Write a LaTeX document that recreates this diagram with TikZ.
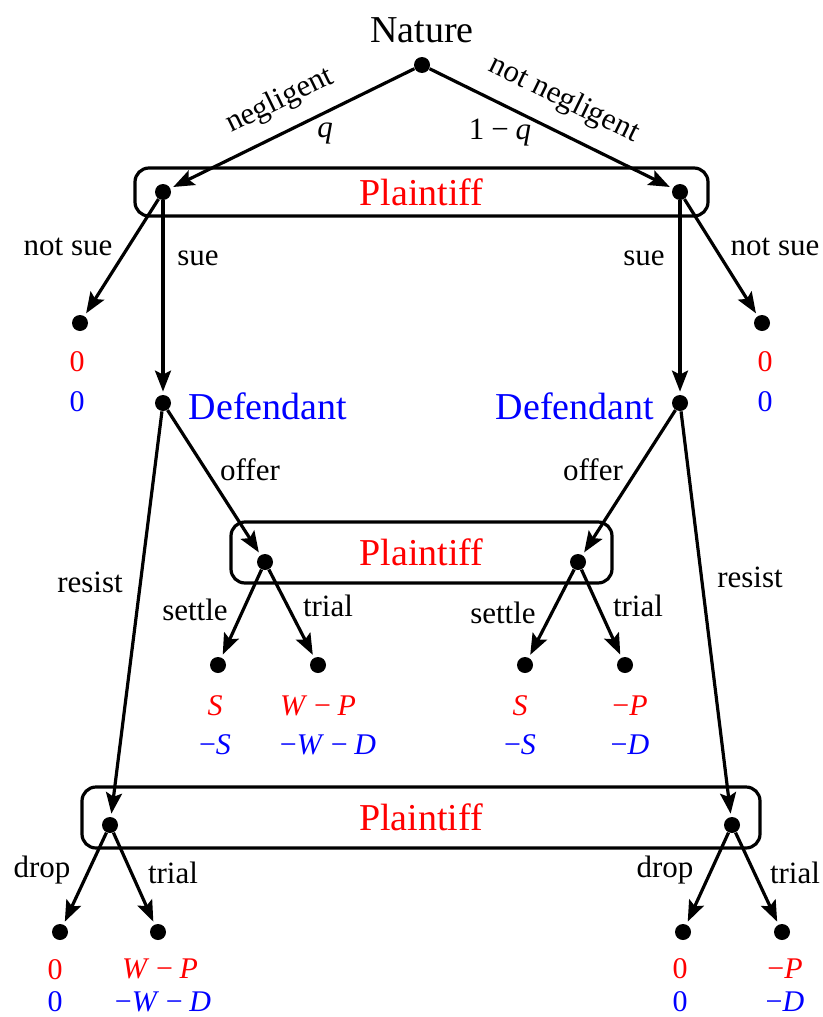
\documentclass[tikz,border=0pt]{standalone}
\usepackage{fontspec}
\setmainfont{Liberation Serif}
\usetikzlibrary{arrows.meta, positioning}
\colorlet{plred}{red}
\colorlet{defblue}{blue}
\newcommand{\mn}{\:−\:}

\begin{document}
\begin{tikzpicture}[x=0.5pt, y=-0.5pt,
    dot/.style={circle, fill=black, inner sep=0pt, minimum size=8pt},
    move/.style={-{Stealth[length=10.5pt, width=8pt, inset=2pt]}, line width=1.6pt, shorten >=1.5pt},
    infobox/.style={draw, rounded corners=7pt, line width=1.6pt, text=plred, font=\fontsize{19}{22}\selectfont},
    player/.style={font=\fontsize{19}{22}\selectfont},
    act/.style={font=\fontsize{15.5}{18}\selectfont},
    pay/.style={font=\fontsize{15}{18}\selectfont}]
    \useasboundingbox (0,0) rectangle (823,1017);

    % information sets
    \node[infobox, minimum width=286.5pt, minimum height=24pt] (ps1) at (421.5,192) {Plaintiff};
    \node[infobox, minimum width=190.5pt, minimum height=30.5pt] (ps2) at (421.5,552.5) {Plaintiff};
    \node[infobox, minimum width=339pt, minimum height=30.5pt] (ps3) at (421,817.5) {Plaintiff};

    % decision nodes
    \node[dot] (nat) at (422,65) {};
    \node[player] at (422,30) {Nature};
    \node[dot] (pl) at (163,192) {};
    \node[dot] (pr) at (680,192) {};
    \node[dot] (dl) at (163,403) {};
    \node[dot] (dr) at (680,403) {};
    \node[player, text=defblue] at (268,406) {Defendant};
    \node[player, text=defblue] at (575,406) {Defendant};
    \node[dot] (ol) at (265,562) {};
    \node[dot] (or) at (578,562) {};
    \node[dot] (rl) at (110,825) {};
    \node[dot] (rr) at (732,825) {};

    % terminal nodes
    \node[dot] (tl1) at (80,323) {};
    \node[dot] (tr1) at (762,323) {};
    \node[dot] (tl2) at (218,665) {};
    \node[dot] (tl3) at (318,665) {};
    \node[dot] (tr2) at (525,665) {};
    \node[dot] (tr3) at (625,665) {};
    \node[dot] (tl4) at (60,932) {};
    \node[dot] (tl5) at (158,932) {};
    \node[dot] (tr4) at (683,932) {};
    \node[dot] (tr5) at (782,932) {};

    % moves
    \draw[move] (nat) -- (pl);
    \draw[move] (nat) -- (pr);
    \node[act, rotate=26] at (280,101) {negligent};
    \node[act] at (325,133) {\textit{q}};
    \node[act, rotate=-26] at (564,100) {not negligent};
    \node[act] at (500,133) {1\mn\textit{q}};

    \draw[move] (pl) -- (tl1);
    \draw[move] (pl) -- (dl);
    \draw[move] (pr) -- (tr1);
    \draw[move] (pr) -- (dr);
    \node[act] at (68,247) {not sue};
    \node[act] at (198,258) {sue};
    \node[act] at (644,258) {sue};
    \node[act] at (775,247) {not sue};

    \draw[move] (dl) -- (ol);
    \draw[move] (dl) -- (rl);
    \draw[move] (dr) -- (or);
    \draw[move] (dr) -- (rr);
    \node[act] at (250,470) {offer};
    \node[act] at (90,582) {resist};
    \node[act] at (593,470) {offer};
    \node[act] at (750,577) {resist};

    \draw[move] (ol) -- (tl2);
    \draw[move] (ol) -- (tl3);
    \draw[move] (or) -- (tr2);
    \draw[move] (or) -- (tr3);
    \node[act] at (195,610) {settle};
    \node[act] at (328,606) {trial};
    \node[act] at (503,613) {settle};
    \node[act] at (638,606) {trial};

    \draw[move] (rl) -- (tl4);
    \draw[move] (rl) -- (tl5);
    \draw[move] (rr) -- (tr4);
    \draw[move] (rr) -- (tr5);
    \node[act] at (42,870) {drop};
    \node[act] at (173,873) {trial};
    \node[act] at (665,870) {drop};
    \node[act] at (795,873) {trial};

    % payoffs
    \node[pay, text=plred] at (77,362) {0};
    \node[pay, text=defblue] at (77,402) {0};
    \node[pay, text=plred] at (765,362) {0};
    \node[pay, text=defblue] at (765,402) {0};

    \node[pay, text=plred] at (215,706) {\textit{S}};
    \node[pay, text=defblue] at (215,745) {−\textit{S}};
    \node[pay, text=plred] at (318,706) {\textit{W}\mn\textit{P}};
    \node[pay, text=defblue] at (328,745) {−\textit{W}\mn\textit{D}};
    \node[pay, text=plred] at (520,706) {\textit{S}};
    \node[pay, text=defblue] at (520,745) {−\textit{S}};
    \node[pay, text=plred] at (630,706) {−\textit{P}};
    \node[pay, text=defblue] at (630,745) {−\textit{D}};

    \node[pay, text=plred] at (55,970) {0};
    \node[pay, text=defblue] at (55,1002) {0};
    \node[pay, text=plred] at (160,969) {\textit{W}\mn\textit{P}};
    \node[pay, text=defblue] at (163,1002) {−\textit{W}\mn\textit{D}};
    \node[pay, text=plred] at (680,969) {0};
    \node[pay, text=defblue] at (680,1002) {0};
    \node[pay, text=plred] at (785,969) {−\textit{P}};
    \node[pay, text=defblue] at (785,1002) {−\textit{D}};
\end{tikzpicture}
\end{document}
